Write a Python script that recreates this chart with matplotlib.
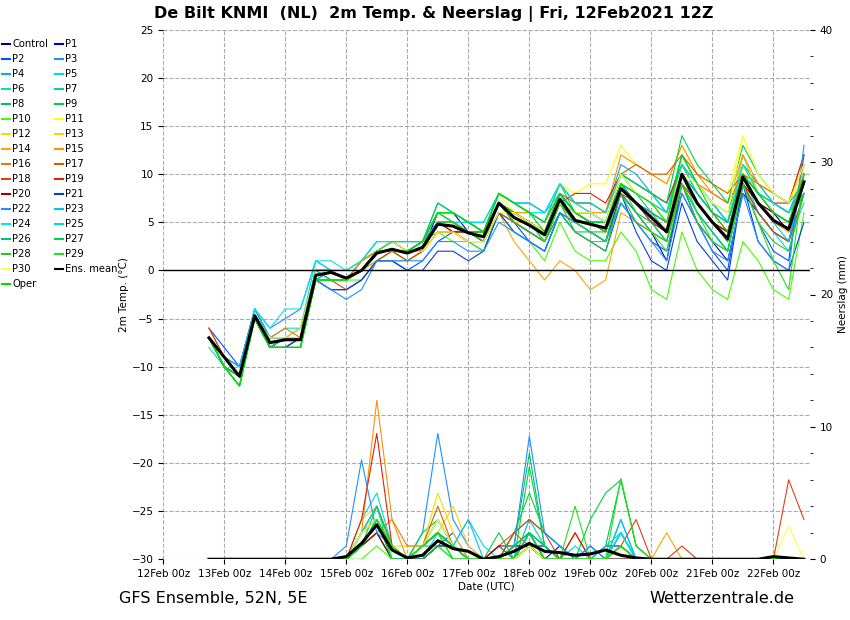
import matplotlib.pyplot as plt
import numpy as np

# 6-hourly steps starting 12Feb 18z (in days since 12Feb 00z)
steps = np.arange(40) * 0.25 + 0.75

names = ["Control"] + [f"P{i}" for i in range(1, 31)] + ["Oper"]
colors = ["#000080", "#0000cd", "#0050ff", "#1e90ff", "#00b0e0", "#00d8e8", "#00e0b0", "#00d890",
          "#00c060", "#00d040", "#40ff00", "#ffff00", "#f0e000", "#ffd000", "#ffa500", "#ff9000",
          "#e08000", "#d06000", "#e04010", "#e02000", "#a00000", "#0040e0", "#1e90ff", "#00bfff",
          "#00e5ee", "#00e0c0", "#00c080", "#00d050", "#30c030", "#20e020", "#ffff40", "#00dd00"]

temp = [
    [-7,-10,-11,-5,-8,-7,-7,-1,0,-1,0,2,2,2,3,5,5,4,3,7,6,5,4,7,5,5,4,9,7,5,4,10,7,5,3,10,7,6,4,9],
    [-7,-9,-11,-5,-7,-7,-7,0,0,-1,1,2,3,2,2,6,6,4,3,7,5,4,3,7,6,6,5,8,6,4,1,9,5,3,1,8,6,4,3,10],
    [-6,-8,-10,-4,-7,-7,-6,-1,-2,-2,-1,1,1,0,1,3,4,3,2,6,5,3,2,6,4,3,2,7,5,3,2,8,5,2,0,9,5,2,1,12],
    [-7,-9,-10,-4,-6,-5,-4,1,0,-1,1,2,3,3,3,6,5,4,4,8,7,6,5,8,6,6,5,10,9,8,7,11,9,7,5,11,9,7,6,10],
    [-7,-10,-12,-5,-8,-8,-8,0,0,-1,1,3,3,3,3,7,6,5,5,8,7,7,6,9,7,7,6,11,10,8,6,12,9,7,5,12,8,7,6,9],
    [-7,-9,-11,-4,-7,-6,-6,1,0,0,1,2,2,2,2,5,5,4,4,7,6,5,4,8,5,4,3,9,7,5,3,10,6,4,2,10,6,4,2,8],
    [-8,-10,-12,-5,-8,-8,-8,-1,0,-1,0,2,2,2,3,4,4,3,3,6,5,4,3,6,4,3,3,7,5,4,3,9,6,4,2,9,6,4,3,7],
    [-7,-10,-11,-5,-7,-7,-7,0,0,0,1,3,3,3,3,6,6,5,4,8,7,6,5,9,6,5,5,10,8,7,6,12,9,7,6,11,9,7,6,9],
    [-7,-9,-11,-5,-8,-7,-7,-1,-1,-1,0,1,2,1,2,5,5,4,3,7,5,4,3,6,4,4,3,8,6,5,3,9,6,4,2,9,6,4,3,8],
    [-7,-10,-11,-5,-8,-8,-7,0,0,-1,0,2,2,2,2,4,4,4,4,7,6,5,3,7,5,4,4,9,7,6,4,10,7,5,3,10,8,6,5,10],
    [-7,-10,-12,-5,-8,-8,-8,-1,-1,-1,-1,1,2,1,2,4,3,3,2,6,4,3,1,5,2,1,1,4,2,-2,-3,4,0,-2,-3,3,1,-2,-3,6],
    [-7,-9,-11,-5,-7,-7,-7,0,0,-1,1,2,3,2,3,5,5,4,4,8,6,6,5,9,8,9,9,13,11,10,9,13,10,9,8,14,10,8,7,10],
    [-7,-9,-10,-4,-7,-7,-6,0,0,0,1,2,2,2,3,5,5,5,4,8,7,6,5,8,6,5,5,10,8,7,5,11,8,6,5,12,8,6,5,9],
    [-7,-9,-11,-5,-8,-7,-7,0,-1,-1,0,2,2,2,2,4,4,3,3,6,5,5,4,7,5,5,4,9,7,6,5,10,8,6,5,11,8,6,5,10],
    [-7,-9,-11,-5,-8,-8,-7,-1,-1,-1,0,1,1,1,2,4,4,3,3,6,3,1,-1,1,0,-2,-1,6,5,4,3,9,7,5,4,10,7,5,4,11],
    [-7,-9,-11,-5,-7,-7,-7,0,0,-1,0,2,2,2,3,5,5,4,4,7,6,6,5,9,7,6,6,12,11,10,9,13,10,8,7,12,9,8,7,12],
    [-6,-9,-10,-4,-7,-6,-7,0,0,-1,1,2,2,2,2,5,5,4,4,7,6,5,4,7,5,5,5,9,8,7,6,11,9,8,7,10,9,8,7,11],
    [-7,-10,-11,-5,-8,-7,-7,0,-1,-1,0,2,2,2,2,5,4,4,3,7,6,5,4,8,7,7,6,10,11,10,10,12,10,9,8,10,8,7,6,9],
    [-6,-9,-11,-5,-8,-8,-7,-1,-1,-2,-1,1,2,1,2,4,4,3,3,6,5,4,3,7,5,5,4,8,7,5,4,9,7,5,4,9,6,4,3,8],
    [-7,-9,-11,-5,-8,-7,-7,0,0,-1,0,2,2,2,2,5,5,4,4,7,6,5,4,7,8,8,7,10,9,8,7,11,8,6,4,10,8,7,7,12],
    [-7,-10,-11,-5,-8,-7,-7,0,0,-1,0,2,2,2,3,5,4,4,3,7,6,5,4,8,6,5,5,9,7,6,5,10,7,5,4,9,7,6,5,9],
    [-7,-10,-11,-5,-8,-8,-7,-1,-2,-2,-1,1,1,0,0,2,2,1,2,6,4,3,2,6,5,4,3,8,4,1,0,7,3,1,-1,9,3,1,0,5],
    [-7,-9,-10,-4,-7,-7,-7,-1,-2,-3,-2,1,1,1,1,3,3,2,2,5,4,3,2,6,5,4,3,7,5,3,1,8,5,2,1,8,3,1,0,13],
    [-7,-9,-10,-4,-7,-7,-7,0,-1,-1,0,2,2,2,3,5,5,5,4,8,7,7,6,8,6,6,5,9,7,6,5,10,8,6,5,10,7,5,3,10],
    [-7,-9,-11,-4,-6,-4,-4,1,1,0,1,3,3,3,3,6,6,5,5,8,7,6,6,9,7,6,5,10,8,7,6,11,8,6,5,10,8,7,6,9],
    [-7,-10,-11,-5,-8,-7,-7,0,0,-1,0,2,2,2,3,6,6,5,4,8,7,6,5,9,7,7,6,10,9,8,6,11,9,7,5,11,8,7,6,8],
    [-7,-10,-11,-5,-8,-8,-8,0,-1,-1,0,2,2,2,3,6,5,4,4,7,6,5,4,8,6,5,5,9,8,6,5,10,8,6,5,10,8,6,5,8],
    [-7,-10,-12,-5,-8,-8,-8,-1,-1,-1,0,2,2,2,3,7,6,5,4,8,7,6,5,8,6,5,5,10,9,8,7,14,11,9,7,13,10,8,7,9],
    [-7,-10,-11,-5,-8,-8,-8,-1,-1,-1,0,2,2,2,2,5,5,4,4,7,5,4,3,7,4,3,2,8,5,4,3,9,5,3,2,9,5,3,2,8],
    [-7,-10,-12,-5,-8,-8,-8,-1,-1,-1,0,2,3,3,3,6,5,4,3,7,6,5,3,7,5,4,3,9,6,4,2,9,6,3,2,9,5,1,-2,10],
    [-7,-9,-11,-5,-7,-7,-7,0,0,-1,0,2,2,2,2,4,4,3,3,6,6,5,4,7,6,6,5,10,8,7,5,10,9,7,6,14,10,8,7,11],
    [-7,-10,-12,-5,-8,-8,-8,-1,-1,-1,0,2,2,2,3,6,6,5,4,8,7,6,4,8,6,5,4,9,8,7,5,12,9,6,4,10,8,6,5,10],
]
temp_mean = [-7,-9,-11,-4.7,-7.5,-7.2,-7.2,-0.5,-0.2,-0.8,0,1.8,2.2,1.8,2.4,4.8,4.6,3.9,3.5,7,
             5.5,4.7,3.7,7.4,5.2,4.8,4.4,8.5,7,5.5,4,10,7,5,3.3,9.7,7,5.2,4.3,9.2]

# precipitation from step 9 on (steps 0-8 are dry)
rain = [
    [0,1,3,1,0,0,1,1,0,0,0,0,1,1,0,0,0,0,1,0,0,0,0,0,0,0,0,0,0,0,0],
    [0,2,3,0,0,1,2,1,0,0,1,0,2,0,1,0,0,1,1,0,0,0,0,0,0,0,0,0,0,0,0],
    [0,1,2,0,0,0,1,2,0,0,0,1,1,0,0,0,0,0,2,0,0,0,0,0,0,0,0,0,0,0,0],
    [0,1,2,0,0,2,9.5,3,1,0,0,1,2,1,0,0,1,0,1,0,0,0,0,0,0,0,0,0,0,0,0],
    [0,2,4,1,0,1,3,1,0,0,1,0,3,2,1,0,1,0,3,0,0,0,0,0,0,0,0,0,0,0,0],
    [0,3,5,1,0,0,2,1,3,1,0,1,2,1,0,1,0,0,2,0,0,0,0,0,0,0,0,0,0,0,0],
    [0,1,3,0,0,0,1,0,0,0,0,0,1,0,0,0,0,0,0,0,0,0,0,0,0,0,0,0,0,0,0],
    [0,2,4,1,0,1,2,1,0,0,0,2,3,1,0,0,0,0,1,0,0,0,0,0,0,0,0,0,0,0,0],
    [0,1,2,0,0,1,1,0,0,0,0,1,8,1,0,0,0,1,6,1,0,0,0,0,0,0,0,0,0,0,0],
    [0,1,3,0,0,2,3,1,0,0,0,2,5,2,1,0,3,5,6,1,0,0,0,0,0,0,0,0,0,0,0],
    [0,0,1,0,0,0,1,0,0,0,0,0,1,0,0,0,0,0,0,0,0,0,0,0,0,0,0,0,0,0,0],
    [0,2,3,1,0,1,3,1,0,0,0,1,2,0,0,0,0,0,1,0,0,0,0,0,0,0,0,0,0,0,0],
    [0,3,4,0,0,1,5,2,0,0,0,0,1,0,0,0,0,0,0,0,0,0,0,0,0,0,0,0,0,0,0],
    [0,1,3,1,1,1,2,4,1,0,0,0,1,0,0,0,0,0,0,0,0,0,0,0,0,0,0,0,0,0,0],
    [0,2,4,1,0,1,2,1,0,0,0,0,1,0,0,0,0,0,1,0,0,2,0,0,0,0,0,0,0,0,0],
    [0,2,12,3,0,1,3,1,0,0,0,0,1,0,0,0,0,0,0,0,0,0,0,0,0,0,0,0,0,0,0],
    [0,1,2,3,1,1,2,1,0,0,0,0,1,0,0,0,0,0,1,0,0,0,0,0,0,0,0,0,0,0,0],
    [0,1,3,1,0,1,4,1,0,0,1,2,1,0,0,0,0,0,1,0,0,0,0,0,0,0,0,0,0,0,0],
    [0,2,4,1,0,1,2,1,0,0,0,2,3,2,0,2,0,0,1,3,0,0,1,0,0,0,0,0,0,6,3],
    [0,3,9.5,1,0,1,2,1,0,0,0,0,2,0,0,2,0,0,1,0,0,0,0,0,0,0,0,0,0,0,0],
    [0,1,2,0,0,0,1,1,0,0,1,1,1,0,0,0,0,0,0,0,0,0,0,0,0,0,0,0,0,0,0],
    [0,1,3,0,0,0,1,1,0,0,0,1,2,0,0,0,0,0,0,0,0,0,0,0,0,0,0,0,0,0,0],
    [1,7.5,2,1,0,1,2,1,0,0,0,1,9.3,2,1,0,1,0,2,0,0,0,0,0,0,0,0,0,0,0,0],
    [0,2,3,1,0,1,3,1,3,0,0,1,2,1,0,0,0,0,3,0,0,0,0,0,0,0,0,0,0,0,0],
    [0,2,4,0,0,1,2,1,0,0,0,0,2,0,0,0,0,0,2,0,0,0,0,0,0,0,0,0,0,0,0],
    [0,2,3,0,0,1,2,1,0,0,0,0,2,0,0,0,0,1,2,0,0,0,0,0,0,0,0,0,0,0,0],
    [0,1,3,1,0,1,2,1,0,0,0,0,2,1,0,0,0,0,1,0,0,0,0,0,0,0,0,0,0,0,0],
    [0,1,4,1,0,1,2,0,0,0,2,0,7,1,0,0,0,0,1,0,0,0,0,0,0,0,0,0,0,0,0],
    [0,1,3,0,0,0,1,1,0,0,0,0,1,0,0,0,0,0,1,0,0,0,0,0,0,0,0,0,0,0,0],
    [0,1,3,0,0,1,2,0,0,0,0,0,1,0,0,4,0,0,6.1,1,0,0,0,0,0,0,0,0,0,0,0],
    [0,2,3,1,0,1,3,1,0,0,0,0,1,0,0,0,0,0,1,0,0,0,0,0,0,0,0,0,0,2.5,0],
    [0,1,3,1,0,1,2,1,0,0,0,1,2,0,0,0,0,0,1,0,0,0,0,0,0,0,0,0,0,0,0],
]
rain_mean = [0.2,1.2,2.6,0.7,0.1,0.3,1.4,0.8,0.6,0,0.2,0.6,1.2,0.6,0.5,0.3,0.4,0.7,0.3,0.1,
             0,0,0,0,0,0,0,0,0.2,0.1,0]

days = ["12Feb", "13Feb", "14Feb", "15Feb", "16Feb", "17Feb", "18Feb", "19Feb", "20Feb", "21Feb", "22Feb"]

fig = plt.figure(figsize=(8.5, 6.2), dpi=100)
ax = fig.add_axes([0.192, 0.098, 0.761, 0.854])
ax2 = ax.twinx()

dry = [0] * 9
handles = {}
for name, col, t, r in zip(names, colors, temp, rain):
    h, = ax.plot(steps, t, color=col, lw=0.8)
    ax2.plot(steps, dry + r, color=col, lw=0.8)
    handles[name] = h
hm, = ax.plot(steps, temp_mean, color="black", lw=2.2)
ax2.plot(steps, dry + rain_mean, color="black", lw=2.2)
handles["Ens. mean"] = hm

ax.axhline(0, color="black", lw=1)
ax.set_xlim(0, 10.6)
ax.set_ylim(-30, 25)
ax.set_yticks(range(-30, 26, 5))
ax.set_xticks(range(11))
ax.set_xticklabels([d + " 00z" for d in days], fontsize=7.5)
ax.tick_params(axis="y", labelsize=7.5)
ax.grid(True, color="#aaaaaa", ls="--", lw=0.8)
ax.set_ylabel("2m Temp. (°C)", fontsize=7.5, labelpad=2)
ax.set_xlabel("Date (UTC)", fontsize=7.5, labelpad=2)
for s in ax.spines.values():
    s.set_visible(False)
for s in ax2.spines.values():
    s.set_visible(False)

ax2.set_ylim(0, 40)
ax2.set_yticks(range(0, 41, 10))
ax2.set_yticks(range(0, 41, 2), minor=True)
ax2.tick_params(axis="y", labelsize=7.5)
ax2.set_ylabel("Neerslag (mm)", fontsize=7.5)

# legend laid out row by row: Control P1 / P2 P3 / ...
col1 = ["Control"] + [f"P{i}" for i in range(2, 31, 2)] + ["Oper"]
col2 = [f"P{i}" for i in range(1, 30, 2)] + ["Ens. mean"]
order = col1 + col2
leg = fig.legend([handles[n] for n in order], order, loc="upper left", bbox_to_anchor=(-0.003, 0.945),
                 ncol=2, frameon=False, fontsize=7.2, handlelength=0.8, handletextpad=0.2,
                 columnspacing=0.7, labelspacing=0.5, borderpad=0)
for ln in leg.get_lines():
    ln.set_linewidth(1.5)

fig.text(0.51, 0.978, "De Bilt KNMI  (NL)  2m Temp. & Neerslag | Fri, 12Feb2021 12Z",
         ha="center", va="center", fontsize=11.5, fontweight="bold")
fig.text(0.14, 0.035, "GFS Ensemble, 52N, 5E", fontsize=11.5, va="center")
fig.text(0.935, 0.035, "Wetterzentrale.de", fontsize=11.5, va="center", ha="right")

fig.savefig("out.png", dpi=100)
